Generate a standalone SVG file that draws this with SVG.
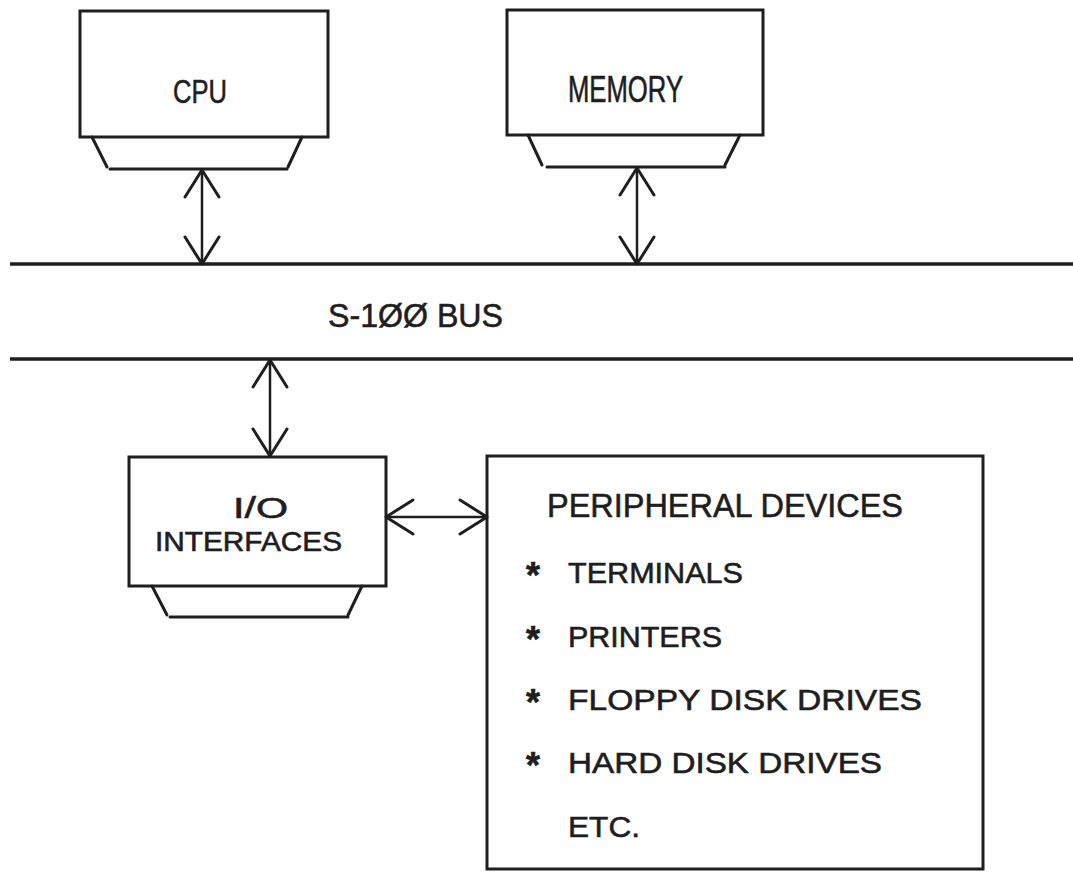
<svg xmlns="http://www.w3.org/2000/svg" width="1073" height="873" viewBox="0 0 1073 873">
<style>
.box{fill:none;stroke:#1e1e1e;stroke-width:3}
.ln{fill:none;stroke:#1e1e1e;stroke-width:3;stroke-linecap:round;stroke-linejoin:round}
.bus{fill:none;stroke:#1e1e1e;stroke-width:3.5}
.arr{fill:none;stroke:#1e1e1e;stroke-width:2.5;marker-start:url(#head);marker-end:url(#head)}
text{font-family:"Liberation Sans",Arial,sans-serif;fill:#1e1e1e;stroke:#1e1e1e;stroke-width:0.6}
.ast{font-weight:bold;font-size:36px}
</style>
<defs>
<marker id="head" markerUnits="userSpaceOnUse" orient="auto-start-reverse" refX="0" refY="0" markerWidth="40" markerHeight="40" viewBox="-30 -20 32 40" overflow="visible">
<path d="M-27,-17 L0,0 L-27,17" fill="none" stroke="#1e1e1e" stroke-width="3" stroke-linecap="round" stroke-linejoin="round"/>
</marker>
</defs>
<rect width="1073" height="873" fill="#ffffff"/>
<g id="bus">
<line class="bus" x1="10" y1="264" x2="1073" y2="264"/>
<line class="bus" x1="10" y1="359" x2="1073" y2="359"/>
<text x="328" y="327" font-size="34" textLength="175" lengthAdjust="spacingAndGlyphs">S-1ØØ BUS</text>
</g>
<g id="cpu">
<rect class="box" x="80" y="11" width="248" height="126"/>
<path class="ln" d="M92,137 L107,167"/>
<path class="ln" d="M302,137 L288,167"/>
<line class="ln" x1="110" y1="169" x2="287" y2="169"/>
<text x="173" y="103" font-size="34" textLength="54" lengthAdjust="spacingAndGlyphs">CPU</text>
</g>
<g id="memory">
<rect class="box" x="507" y="10" width="256" height="125"/>
<path class="ln" d="M528,135 L542,165"/>
<path class="ln" d="M740,135 L725,165"/>
<line class="ln" x1="547" y1="167" x2="725" y2="167"/>
<text x="568" y="102" font-size="37" textLength="115" lengthAdjust="spacingAndGlyphs">MEMORY</text>
</g>
<g id="io">
<rect class="box" x="129" y="457" width="257" height="129"/>
<path class="ln" d="M152,586 L167,615"/>
<path class="ln" d="M362,586 L348,615"/>
<line class="ln" x1="170" y1="617" x2="348" y2="617"/>
<text x="233" y="518" font-size="30" textLength="55" lengthAdjust="spacingAndGlyphs">I/O</text>
<text x="155" y="551" font-size="28" textLength="187" lengthAdjust="spacingAndGlyphs">INTERFACES</text>
</g>
<g id="peripherals">
<rect class="box" x="487" y="456" width="496" height="413"/>
<text x="547" y="517" font-size="34" textLength="356" lengthAdjust="spacingAndGlyphs">PERIPHERAL DEVICES</text>
<text class="ast" x="526" y="588">*</text>
<text x="568" y="583" font-size="30" textLength="175" lengthAdjust="spacingAndGlyphs">TERMINALS</text>
<text class="ast" x="526" y="652">*</text>
<text x="568" y="647" font-size="30" textLength="154" lengthAdjust="spacingAndGlyphs">PRINTERS</text>
<text class="ast" x="526" y="715">*</text>
<text x="568" y="710" font-size="30" textLength="354" lengthAdjust="spacingAndGlyphs">FLOPPY DISK DRIVES</text>
<text class="ast" x="526" y="778">*</text>
<text x="568" y="773" font-size="30" textLength="314" lengthAdjust="spacingAndGlyphs">HARD DISK DRIVES</text>
<text x="568" y="837" font-size="30" textLength="72" lengthAdjust="spacingAndGlyphs">ETC.</text>
</g>
<g id="connectors">
<line class="arr" x1="202" y1="170" x2="202" y2="264"/>
<line class="arr" x1="637" y1="168" x2="637" y2="264"/>
<line class="arr" x1="270" y1="360" x2="270" y2="456"/>
<line class="arr" x1="386" y1="517" x2="487" y2="517"/>
</g>
</svg>
